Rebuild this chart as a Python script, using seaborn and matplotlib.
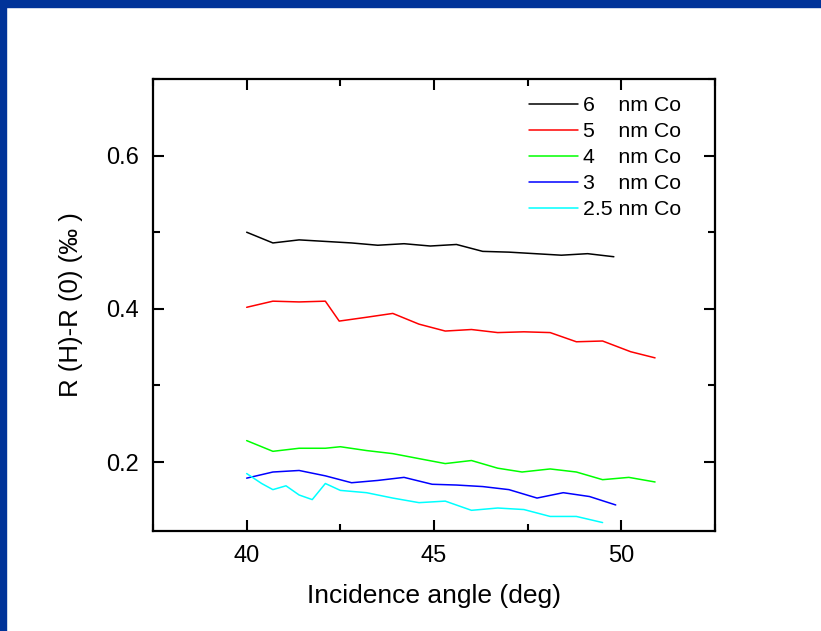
import pandas as pd
import seaborn as sns
import matplotlib
matplotlib.use('Agg')
import matplotlib.pyplot as plt
from matplotlib.ticker import MultipleLocator, AutoMinorLocator
from matplotlib.patches import Rectangle

# Values (incidence angle in deg, R(H)-R(0) in permille)
x_6nm = [40.0, 40.7, 41.4, 42.1, 42.8, 43.5, 44.2, 44.9, 45.6, 46.3, 47.0, 47.7, 48.4, 49.1, 49.8]
y_6nm = [0.500, 0.486, 0.490, 0.488, 0.486, 0.483, 0.485, 0.482, 0.484, 0.475, 0.474, 0.472, 0.470, 0.472, 0.468]

x_5nm = [40.0, 40.7, 41.4, 42.1, 42.47, 43.2, 43.9, 44.6, 45.3, 46.0, 46.7, 47.4, 48.1, 48.8, 49.5, 50.25, 50.9]
y_5nm = [0.402, 0.410, 0.409, 0.410, 0.384, 0.389, 0.394, 0.380, 0.371, 0.373, 0.369, 0.370, 0.369, 0.357, 0.358, 0.344, 0.336]

x_4nm = [40.0, 40.7, 41.4, 42.1, 42.5, 43.2, 43.9, 44.65, 45.3, 46.0, 46.7, 47.35, 48.1, 48.8, 49.5, 50.2, 50.9]
y_4nm = [0.228, 0.214, 0.218, 0.218, 0.220, 0.215, 0.211, 0.204, 0.198, 0.202, 0.192, 0.187, 0.191, 0.187, 0.177, 0.180, 0.174]

x_3nm = [40.0, 40.7, 41.4, 42.1, 42.8, 43.5, 44.2, 44.95, 45.6, 46.3, 47.0, 47.75, 48.45, 49.15, 49.85]
y_3nm = [0.179, 0.187, 0.189, 0.182, 0.173, 0.176, 0.180, 0.171, 0.170, 0.168, 0.164, 0.153, 0.160, 0.155, 0.144]

x_25nm = [40.0, 40.4, 40.7, 41.05, 41.4, 41.75, 42.1, 42.5, 43.2, 43.9, 44.6, 45.3, 46.0, 46.7, 47.4, 48.1, 48.8, 49.5]
y_25nm = [0.185, 0.172, 0.164, 0.169, 0.157, 0.151, 0.172, 0.163, 0.160, 0.153, 0.147, 0.149, 0.137, 0.140, 0.138, 0.129, 0.129, 0.121]

labels = ['6    nm Co', '5    nm Co', '4    nm Co', '3    nm Co', '2.5 nm Co']
colors = ['#000000', '#ff0000', '#00ff00', '#0000ff', '#00ffff']
series = [(x_6nm, y_6nm), (x_5nm, y_5nm), (x_4nm, y_4nm), (x_3nm, y_3nm), (x_25nm, y_25nm)]

rows = []
for lab, (xs, ys) in zip(labels, series):
    for xv, yv in zip(xs, ys):
        rows.append({'angle': xv, 'dR': yv, 'sample': lab})
df = pd.DataFrame(rows)

sns.set_style('ticks')
plt.rcParams['font.family'] = ['Liberation Sans', 'DejaVu Sans']
plt.rcParams.update({'text.color': 'black', 'axes.labelcolor': 'black',
                     'xtick.color': 'black', 'ytick.color': 'black'})

fig = plt.figure(figsize=(8.21, 6.31), dpi=100)
ax = fig.add_axes([153 / 821, 1 - 531 / 631, (715 - 153) / 821, (531 - 79) / 631])

sns.lineplot(data=df, x='angle', y='dR', hue='sample', hue_order=labels,
             palette=dict(zip(labels, colors)), estimator=None, sort=False,
             units='sample', linewidth=1.1, ax=ax)

ax.set_xlim(37.5, 52.5)
ax.set_ylim(0.11, 0.70)
ax.xaxis.set_major_locator(MultipleLocator(5))
ax.xaxis.set_minor_locator(AutoMinorLocator(2))
ax.yaxis.set_major_locator(MultipleLocator(0.2))
ax.yaxis.set_minor_locator(AutoMinorLocator(2))
ax.tick_params(which='both', direction='in', top=True, right=True,
               width=1.5, labelsize=17, pad=10)
ax.tick_params(which='major', length=8)
ax.tick_params(which='minor', length=5)
for sp in ax.spines.values():
    sp.set_linewidth(1.6)
    sp.set_color('black')

ax.set_xlabel('Incidence angle (deg)', fontsize=19, labelpad=12)
ax.set_ylabel('R (H)-R (0) (‰ )', fontsize=18.5, labelpad=17)

ax.legend(loc='upper left', bbox_to_anchor=((529 - 153) / 562, (531 - 96) / 452),
          frameon=False, fontsize=15.3, handlelength=2.3, handletextpad=0.25,
          labelspacing=0.33, borderpad=0, borderaxespad=0)

# blue slide frame (top and left bars)
fig.patches.append(Rectangle((0, 1 - 7 / 631), 1, 7 / 631, transform=fig.transFigure,
                             color='#003399', zorder=5))
fig.patches.append(Rectangle((0, 0), 6 / 821, 1, transform=fig.transFigure,
                             color='#003399', zorder=5))

fig.savefig('out.png', dpi=100)
